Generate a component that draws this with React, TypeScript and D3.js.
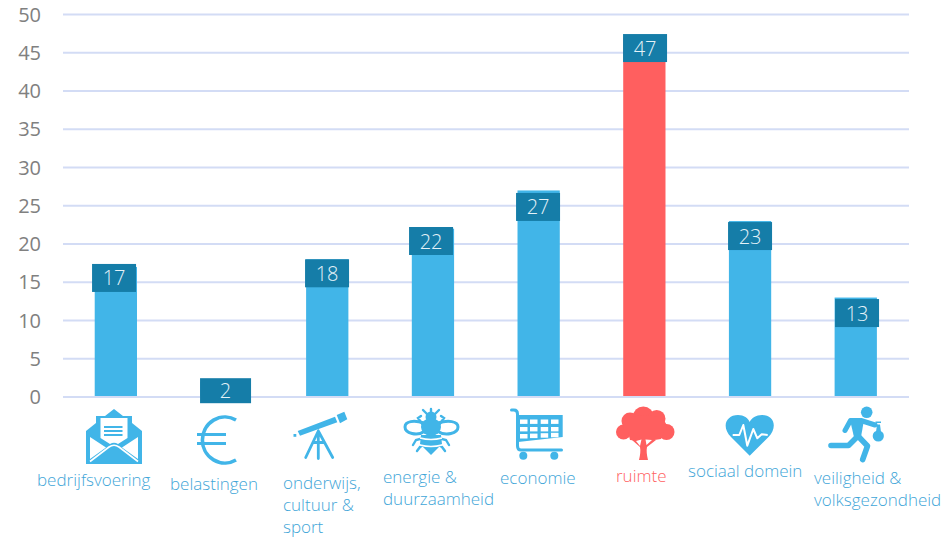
import React from "react";
import * as d3 from "d3";

const categories = ["bedrijfsvoering","belastingen","onderwijs","energie","economie","ruimte","sociaal","veiligheid"];
const values = [17,2,18,22,27,47,23,13];
const categoryLines = [["bedrijfsvoering"],["belastingen"],["onderwijs,","cultuur &","sport"],["energie &","duurzaamheid"],["economie"],["ruimte"],["sociaal domein"],["veiligheid &","volksgezondheid"]];
const labelLeft = [37,170,283,383,500,616,688,814];
const labelBaseline = [486,490,489,483,484,482,477,484];
const boxDx = [-1.8,4,-0.2,-1.9,-0.6,0.7,0,1.3];
const boxDy = [-3,-3.5,0,-1.7,2.5,-3.4,1,1.5];
const boxWidth = [44,51,44,44,44,44,44,44];
const highlighted = "ruimte";

const BLUE = "#41B5E8", DARK = "#157DA8", RED = "#FF5F5F", GRID = "#D3DCF5", AXIS = "#808080", LABEL = "#3FA6D8";
const FONT = "'Open Sans', sans-serif";

const x = d3.scaleBand<string>().domain(categories).range([63, 908.6]).paddingInner(0.6).paddingOuter(0.3);
const y = d3.scaleLinear().domain([0, 50]).range([397, 14.5]);

const Envelope = () => (
  <g>
    <path d="M114,409 L123,416 L132,416 L132,423 L142,431 L142,464 L86,464 L86,431 L96,423 L96,416 L105,416 Z" fill={BLUE} />
    <path d="M100.5,418 H127.5 V438 L118,444 Q114,441.5 110,444 L100.5,438 Z" fill="#fff" />
    <path d="M104,427 H122.5 M104,431 H122.5 M104,435 H122.5" stroke={BLUE} strokeWidth={2} />
    <path d="M90,437 L106,447.5 L90,459 Z M138,437 L122,447.5 L138,459 Z" fill="#fff" />
    <path d="M90,461.5 L109,447 Q114,443.5 119,447 L138,461.5" fill="none" stroke="#fff" strokeWidth={1.6} />
  </g>
);
const Euro = () => (
  <g fill="none" stroke={BLUE} strokeWidth={3.6}>
    <path d="M236,420 A22.5,23 0 1 0 236,460" />
    <path d="M197,434.5 H226 M197,443.5 H226" strokeWidth={3.2} />
  </g>
);
const Telescope = () => (
  <g>
    <path d="M297.7,431 L335,416.7 L337.3,422.3 L300,435.7 Z M336.7,415 L344.3,411.7 L347.3,419.3 L340,423.3 Z" fill={BLUE} />
    <rect x={293.5} y={434} width={2.8} height={2.8} fill={BLUE} />
    <path d="M318.3,431 L305.7,457.5 M318.3,431 V458.5 M318.3,431 L332.7,457.5 M313,442.5 H324" fill="none" stroke={BLUE} strokeWidth={2.8} strokeLinecap="round" />
  </g>
);
const Bee = () => (
  <g>
    <g fill="none" stroke={BLUE} strokeLinecap="round">
      <path d="M424,423 C414,420 405,421 405,427 C405,433 417,437 425,431 M438,423 C448,420 458,421 458,427 C458,433 446,437 437,431" strokeWidth={3} />
      <path d="M427,414 L423,410 M435,414 L439,410 M431,412 V409 M423,425 L418,418 L421,416 M439,425 L444,418 L441,416 M424,438 L416,440 L413,445 M438,438 L446,440 L449,445 M425,444 L420,447 L417,451 M437,444 L442,447 L445,451" strokeWidth={2.4} />
    </g>
    <circle cx={431} cy={417} r={5.5} fill={BLUE} />
    <ellipse cx={431} cy={427} rx={10} ry={9} fill={BLUE} />
    <path d="M421,435 H441 L442,444 L431,455 L420,444 Z" fill={BLUE} />
    <path d="M420,438 Q431,441 442,438 M420,445 Q431,448 442,445" fill="none" stroke="#fff" strokeWidth={1.6} />
  </g>
);
const Cart = () => {
  const xs = [520, 530, 540.7, 551];
  const ys = [419.5, 427, 434];
  return (
    <g>
      <path d="M511.5,410 H514 Q517.5,410 517.5,414 V446 Q517.5,450 521,450 H561.5" fill="none" stroke={BLUE} strokeWidth={3} strokeLinecap="round" />
      <path d="M518,415 H562.7 V437 L518,442 Z" fill={BLUE} />
      {ys.map((cy, r) => xs.map((cx, c) => (
        <rect key={`${r}-${c}`} x={cx} y={cy - (r === 2 ? 0.4 * c : 0)} width={7.5} height={r === 2 ? 4.5 : 4.4} fill="#fff" />
      )))}
      <circle cx={523.3} cy={455.7} r={4} fill={BLUE} />
      <circle cx={554.3} cy={455.7} r={4} fill={BLUE} />
    </g>
  );
};
const Tree = () => (
  <g fill={RED}>
    <circle cx={643.3} cy={417} r={10.5} />
    <circle cx={630} cy={421} r={8.5} />
    <circle cx={623.5} cy={432} r={7.5} />
    <circle cx={656.7} cy={418.8} r={8.8} />
    <circle cx={666.5} cy={432} r={8} />
    <ellipse cx={645} cy={427} rx={22} ry={12} />
    <path d="M628,432 H664 L661,439 L648,441 H640 L630,440 Z" />
    <path d="M639,460 Q641,452 640,447 L632,440 H656 L647,447 Q646,452 648,460 Z" />
    <path d="M636,441 L640,446 L641.5,439.5 Z M645.5,439.5 L646.5,445 L652,440 Z" fill="#fff" />
  </g>
);
const Heart = () => (
  <g>
    <path d="M749.7,455.7 L731,437 C721,427 726,415 738,415 C744,415 748,418 749.7,422 C751.5,418 756,415 762,415 C774,415 778,427 768.5,437 Z" fill={BLUE} />
    <path d="M732.7,435 H739.3 L743.3,425 L747.3,445.7 L753.3,429 L757.3,438.3 L761.7,434.3 L767.7,435" fill="none" stroke="#fff" strokeWidth={2} strokeLinejoin="round" />
  </g>
);
const Runner = () => (
  <g>
    <circle cx={866.7} cy={412.3} r={5.8} fill={BLUE} />
    <path d="M845,430.5 L850.5,420.5 H861 L875,425" fill="none" stroke={BLUE} strokeWidth={5} strokeLinecap="round" strokeLinejoin="round" />
    <path d="M855,421 L857,437 L848.5,445.5 H831 M857,435 L867.5,446 L862.7,459.5" fill="none" stroke={BLUE} strokeWidth={5.6} strokeLinecap="round" strokeLinejoin="round" />
    <path d="M850,420 H864 L861,437 H854 Z" fill={BLUE} />
    <circle cx={878.3} cy={436} r={5.6} fill={BLUE} />
    <path d="M875.5,421.5 H881 V423 H875.5 Z M877,424.5 H880 L881,432 H876 Z" fill={BLUE} />
  </g>
);
const icons = [Envelope, Euro, Telescope, Bee, Cart, Tree, Heart, Runner];

export default function App() {
  return (
    <svg width={945} height={537} style={{ position: "absolute", left: 0, top: 0, fontFamily: FONT }}>
      {y.ticks(10).map((t) => (
        <g key={t}>
          <line x1={63} x2={909} y1={y(t)} y2={y(t)} stroke={GRID} strokeWidth={2} />
          <text x={41} y={y(t) + 7} textAnchor="end" fontSize={20} fill={AXIS}>{t}</text>
        </g>
      ))}
      {categories.map((c, i) => (
        <rect key={c} x={x(c)} y={y(values[i])} width={x.bandwidth()} height={y(0) - 1 - y(values[i])} fill={c === highlighted ? RED : BLUE} />
      ))}
      {categories.map((c, i) => {
        const cx = x(c)! + x.bandwidth() / 2 + boxDx[i];
        const top = y(values[i]) + boxDy[i];
        return (
          <g key={c}>
            <rect x={cx - boxWidth[i] / 2} y={top} width={boxWidth[i]} height={i === 1 ? 25 : 28} fill={DARK} />
            <text x={cx} y={top + (i === 1 ? 19.5 : 21.5)} textAnchor="middle" fontSize={20} fontWeight={300} fill="#E4F2F8">{values[i]}</text>
          </g>
        );
      })}
      {icons.map((Icon, i) => <Icon key={i} />)}
      {categories.map((c, i) => (
        <text key={c} fontSize={17} fontWeight={300} fill={c === highlighted ? RED : LABEL}>
          {categoryLines[i].map((line, j) => (
            <tspan key={j} x={labelLeft[i]} y={labelBaseline[i] + j * 22}>{line}</tspan>
          ))}
        </text>
      ))}
    </svg>
  );
}
